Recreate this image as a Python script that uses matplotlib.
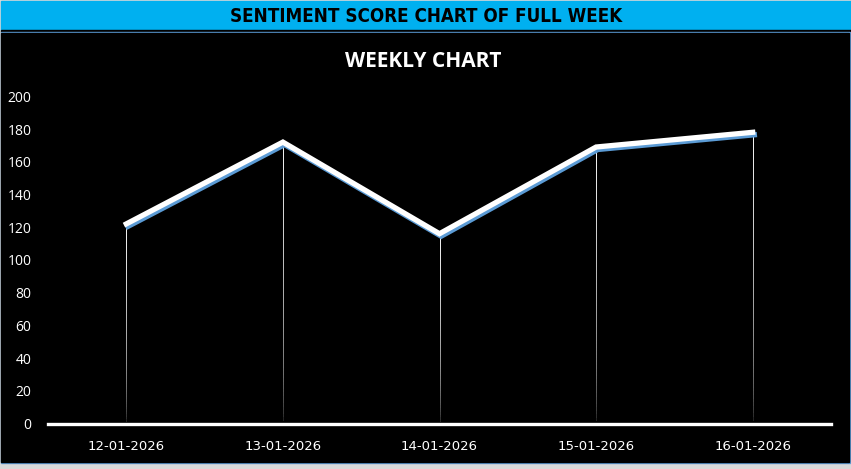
import matplotlib
matplotlib.use("Agg")
import matplotlib.pyplot as plt
import matplotlib.patheffects as pe
from matplotlib.patches import Rectangle
from matplotlib.collections import LineCollection
import numpy as np

dates = ["12-01-2026", "13-01-2026", "14-01-2026", "15-01-2026", "16-01-2026"]
scores = [122, 172, 116, 169, 178]
yticks = [0, 20, 40, 60, 80, 100, 120, 140, 160, 180, 200]

W, H = 851, 469
fig = plt.figure(figsize=(W / 100, H / 100), dpi=100)
fig.patch.set_facecolor("#d9d9d9")

def px_rect(x0, y0, x1, y1, color):
    # rectangle in pixel coords, y measured from the top
    fig.patches.append(Rectangle((x0 / W, 1 - y1 / H), (x1 - x0) / W, (y1 - y0) / H,
                                 transform=fig.transFigure, color=color, zorder=0))

px_rect(1, 1, 851, 30, "#00b0f0")
px_rect(1, 30, 851, 32, "#000000")
px_rect(1, 32, 850, 463, "#5b9bd5")
px_rect(1, 33, 849, 462, "#000000")

fig.text(426 / W, 1 - 16 / H, "SENTIMENT SCORE CHART OF FULL WEEK", ha="center", va="center",
         fontsize=13.5, fontweight="bold", color="black", family="Liberation Sans Narrow",
         fontstretch="condensed", zorder=3)
fig.text(423 / W, 1 - 61 / H, "WEEKLY CHART", ha="center", va="center",
         fontsize=15, fontweight="bold", color="white", family="Open Sans", zorder=3)

ax = fig.add_axes([48 / W, 1 - 423.5 / H, (831 - 48) / W, (423.5 - 96.3) / H])
ax.set_zorder(5)
ax.set_facecolor("black")
x = np.arange(len(dates))
ax.set_xlim(-0.5, len(dates) - 0.5)
ax.set_ylim(0, 200)

# drop lines fading from white to black
for xi, yi in zip(x, scores):
    ys = np.linspace(0, yi, 80)
    segs = [[(xi, ys[i]), (xi, ys[i + 1])] for i in range(len(ys) - 1)]
    shade = np.linspace(0.0, 1.0, len(segs)) ** 0.45 * 0.95
    cols = [(s, s, s, 1) for s in shade]
    ax.add_collection(LineCollection(segs, colors=cols, linewidths=0.7, capstyle="projecting",
                                     antialiased=False, zorder=1))

ax.plot(x, scores, color="white", lw=3.8, solid_joinstyle="miter", zorder=3,
        path_effects=[pe.SimpleLineShadow(offset=(1.2, -1.8), shadow_color="#5b9bd5", alpha=1),
                      pe.Normal()])

for s in ["top", "left", "right"]:
    ax.spines[s].set_visible(False)
ax.spines["bottom"].set_color("white")
ax.spines["bottom"].set_linewidth(2.4)
ax.spines["bottom"].set_zorder(4)

ax.set_xticks(x)
ax.set_xticklabels(dates)
ax.set_yticks(yticks)
ax.tick_params(axis="both", length=0, colors="white", labelsize=10)
ax.tick_params(axis="y", pad=12)
ax.tick_params(axis="x", pad=12)
for lab in ax.get_xticklabels():
    lab.set_family("DejaVu Sans")
    lab.set_fontsize(9.5)
for lab in ax.get_yticklabels():
    lab.set_family("Open Sans")

fig.savefig("out.png", dpi=100, facecolor=fig.get_facecolor())
